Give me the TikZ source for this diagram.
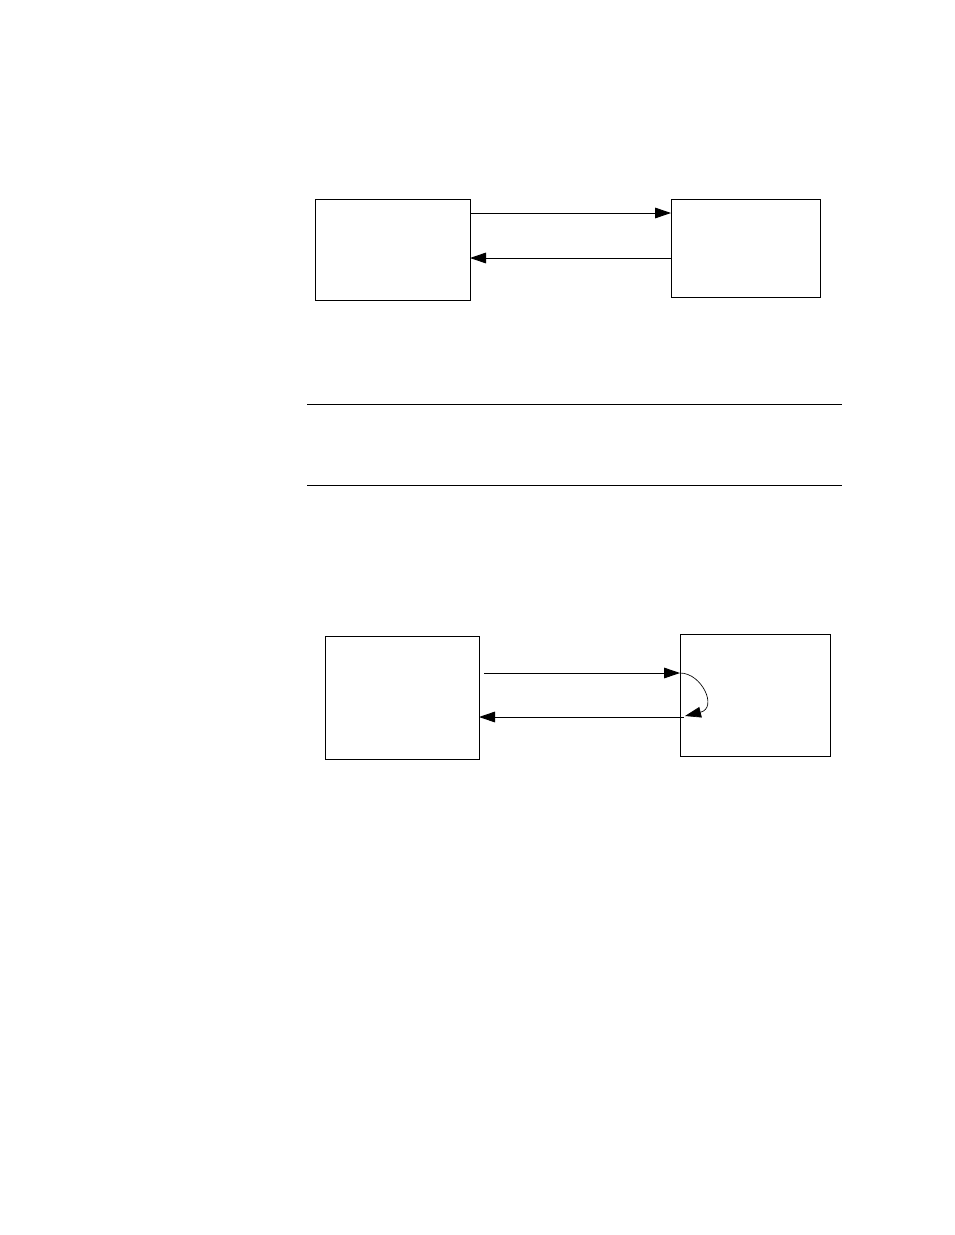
\documentclass[tikz,border=0pt]{standalone}
\usetikzlibrary{arrows.meta}
\begin{document}
\begin{tikzpicture}[x=0.75pt,y=-0.75pt,
  box/.style={draw,line width=0.7pt,inner sep=0pt,anchor=north west},
  tip/.style={-{Triangle[length=12pt,width=8pt]}},
  conn/.style={line width=0.7pt,tip},
  rule/.style={line width=0.7pt}]
\useasboundingbox (0,0) rectangle (954,1235);
% top diagram
\node[box,minimum width=155*0.75pt,minimum height=101*0.75pt] (A) at (315,199) {};
\node[box,minimum width=149*0.75pt,minimum height=98*0.75pt] (B) at (671,199) {};
\coordinate (a1) at (470,213);
\coordinate (b1) at (671,213);
\coordinate (b2) at (671,258);
\coordinate (a2) at (470,258);
\draw[conn] (a1) -- (b1);
\draw[conn] (b2) -- (a2);
% separator lines
\coordinate (l1s) at (307,404); \coordinate (l1e) at (842,404);
\coordinate (l2s) at (307,485); \coordinate (l2e) at (842,485);
\draw[rule] (l1s) -- (l1e);
\draw[rule] (l2s) -- (l2e);
% bottom diagram
\node[box,minimum width=154*0.75pt,minimum height=123*0.75pt] (C) at (325,636) {};
\node[box,minimum width=150*0.75pt,minimum height=122*0.75pt] (D) at (680,634) {};
\coordinate (c1) at (484,673);
\coordinate (d1) at (680,673);
\coordinate (d2) at (684,717);
\coordinate (c2) at (479,717);
\coordinate (d3) at (685,716);
\draw[conn] (c1) -- (d1);
\draw[conn] (d2) -- (c2);
\draw[line width=0.5pt,tip] (d1) .. controls (702,673) and (718,708) .. (d3);
\end{tikzpicture}
\end{document}
